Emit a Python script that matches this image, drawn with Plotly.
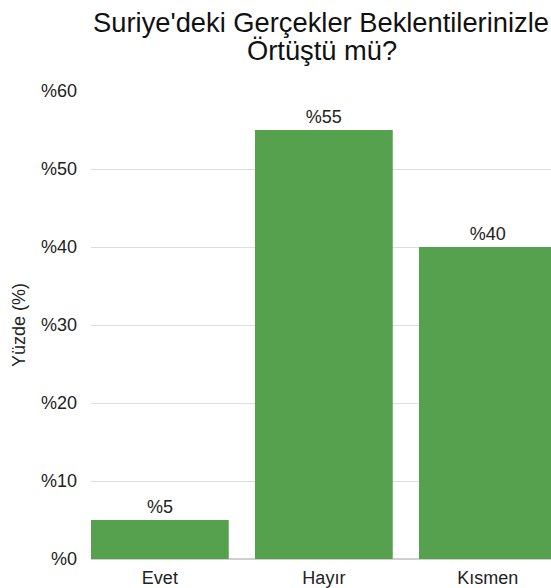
import plotly.graph_objects as go

categories = ["Evet", "Hayır", "Kısmen"]
values = [5, 55, 40]
title_line1 = "Suriye'deki Gerçekler Beklentilerinizle"
title_line2 = "Örtüştü mü?"
y_title = "Yüzde (%)"
bar_color = "#55a14e"

fig = go.Figure(go.Bar(
    x=categories,
    y=values,
    marker=dict(color=bar_color, line=dict(width=0)),
    text=[f"%{v}" for v in values],
    textposition="outside",
    textfont=dict(size=18, color="#222"),
    cliponaxis=False,
    width=0.84,
))

fig.update_layout(
    width=551, height=588,
    margin=dict(l=91, r=0, t=91, b=29),
    paper_bgcolor="white", plot_bgcolor="white",
    font=dict(family="Liberation Sans, Arial, sans-serif", color="#222"),
    title=dict(text=title_line1, x=321/551, xref="container", xanchor="center",
               y=1 - 22/588, yref="container", yanchor="middle",
               font=dict(size=27.3, color="#111")),
    annotations=[dict(text=title_line2, xref="paper", xanchor="center",
                      x=(322 - 91) / (551 - 91),
                      y=(588 - 29 - 50) / (588 - 91 - 29), yref="paper",
                      yanchor="middle", showarrow=False,
                      font=dict(size=27.3, color="#111"))],
    showlegend=False,
)

fig.update_xaxes(range=[-0.42, 2.385], showgrid=False, showline=False,
                 tickfont=dict(size=18), ticklabelstandoff=6, zeroline=False)
fig.update_yaxes(range=[0, 60], dtick=10, tickprefix="%", showgrid=True,
                 gridcolor="#dedede", gridwidth=1, zeroline=True, zerolinecolor="#d0d0d0",
                 zerolinewidth=1.5, tickfont=dict(size=18), ticklabelstandoff=13,
                 title=dict(text=y_title, font=dict(size=18), standoff=10))

fig.write_html("out.html", config={"displayModeBar": False},
               post_script="document.body.style.margin='0';document.body.style.overflow='hidden';")
